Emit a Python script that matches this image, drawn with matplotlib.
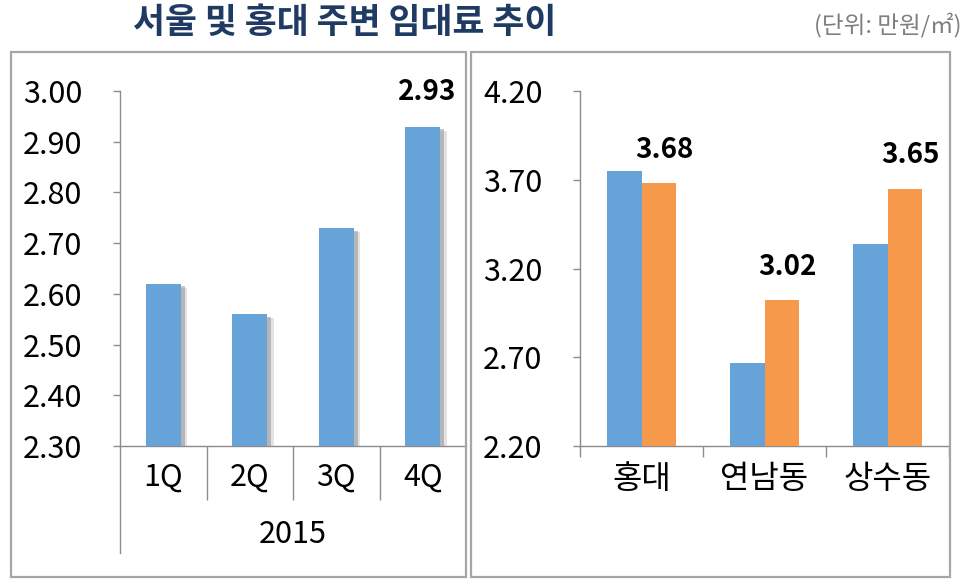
import numpy as np
import matplotlib
matplotlib.use("Agg")
import matplotlib.pyplot as plt
import matplotlib.patheffects as pe
from matplotlib.patches import Rectangle

plt.rcParams['font.family'] = ['Noto Sans CJK KR', 'DejaVu Sans']

# data
quarters = ['1Q', '2Q', '3Q', '4Q']
year_label = '2015'
seoul_rent = [2.62, 2.56, 2.73, 2.93]

areas = ['홍대', '연남동', '상수동']
rent_prev = [3.75, 2.67, 3.34]
rent_now = [3.68, 3.02, 3.65]

left_yticks = [2.30, 2.40, 2.50, 2.60, 2.70, 2.80, 2.90, 3.00]
right_yticks = [2.20, 2.70, 3.20, 3.70, 4.20]

blue = '#66A3D8'
orange = '#F7994A'
axis_gray = '#8C8C8C'
box_gray = '#A6A6A6'

W, H = 964, 583
fig = plt.figure(figsize=(W / 100, H / 100), dpi=100)

# panel borders
for x0, x1 in [(11, 466), (471, 950)]:
    fig.patches.append(Rectangle((x0 / W, 1 - 577 / H), (x1 - x0) / W, (577 - 52) / H,
                                 transform=fig.transFigure, fill=False,
                                 edgecolor=box_gray, lw=1.6))

fig.text(133 / W, 1 - 22 / H, '서울 및 홍대 주변 임대료 추이', fontsize=25,
         fontweight='bold', color='#1F3B63', ha='left', va='center')
fig.text(961 / W, 1 - 25 / H, '(단위: 만원/㎡)', fontsize=17, color='#7F7F7F',
         ha='right', va='center')

ax1 = fig.add_axes([120 / W, 1 - 446 / H, (466 - 120) / W, 355 / H])
ax2 = fig.add_axes([580 / W, 1 - 446 / H, (949 - 580) / W, 355 / H])

# left: seoul by quarter
x1 = np.arange(len(quarters))
shadow = [pe.SimplePatchShadow(offset=(5, -3), shadow_rgbFace='#B0B0B0', alpha=0.35),
          pe.SimplePatchShadow(offset=(3, -2), shadow_rgbFace='#808080', alpha=0.45),
          pe.Normal()]
bars = ax1.bar(x1, seoul_rent, width=0.4, color=blue, zorder=3)
for b in bars:
    b.set_path_effects(shadow)
ax1.set_ylim(2.30, 3.00)
ax1.set_xlim(-0.5, len(quarters) - 0.5)
ax1.set_yticks(left_yticks)
ax1.set_yticklabels(['%.2f' % v for v in left_yticks])
ax1.set_xticks(x1[:-1] + 0.5)
ax1.set_xticklabels([])
ax1.tick_params(axis='x', which='major', length=39, width=1, color=axis_gray)
ax1.set_xticks(x1, minor=True)
ax1.set_xticklabels(quarters, minor=True)
ax1.tick_params(axis='x', which='minor', length=0, pad=11, labelsize=22)
ax1.plot([0, 0], [0, -0.30], transform=ax1.transAxes, color=axis_gray, lw=1,
         clip_on=False)
ax1.text(0.5, -0.25, year_label, transform=ax1.transAxes, fontsize=22,
         ha='center', va='center')
ax1.annotate('%.2f' % seoul_rent[-1], (x1[-1], seoul_rent[-1]),
             xytext=(3, 25), textcoords='offset points', ha='center', va='center',
             fontsize=20, fontweight='bold')

# right: hongdae area comparison
x2 = np.arange(len(areas))
bw = 0.28
ax2.bar(x2 - bw / 2, rent_prev, width=bw, color=blue, zorder=3)
ax2.bar(x2 + bw / 2, rent_now, width=bw, color=orange, zorder=3)
ax2.set_ylim(2.20, 4.20)
ax2.set_xlim(-0.5, len(areas) - 0.5)
ax2.set_yticks(right_yticks)
ax2.set_yticklabels(['%.2f' % v for v in right_yticks])
ax2.set_xticks(np.append(x2 - 0.5, x2[-1] + 0.5))
ax2.set_xticklabels([])
ax2.tick_params(axis='x', which='major', length=8, width=1, color=axis_gray)
ax2.set_xticks(x2, minor=True)
ax2.set_xticklabels(areas, minor=True)
ax2.tick_params(axis='x', which='minor', length=0, pad=12, labelsize=23)
for xi, v in zip(x2, rent_now):
    ax2.annotate('%.2f' % v, (xi + bw / 2, v), xytext=(4, 24),
                 textcoords='offset points', ha='center', va='center',
                 fontsize=20, fontweight='bold')

for ax in (ax1, ax2):
    for s in ['top', 'right']:
        ax.spines[s].set_visible(False)
    for s in ['left', 'bottom']:
        ax.spines[s].set_color(axis_gray)
        ax.spines[s].set_linewidth(1)
    ax.tick_params(axis='y', length=5, width=1, color=axis_gray, pad=22,
                   labelsize=22)
    ax.set_facecolor('none')

fig.savefig('out.png', dpi=100)
